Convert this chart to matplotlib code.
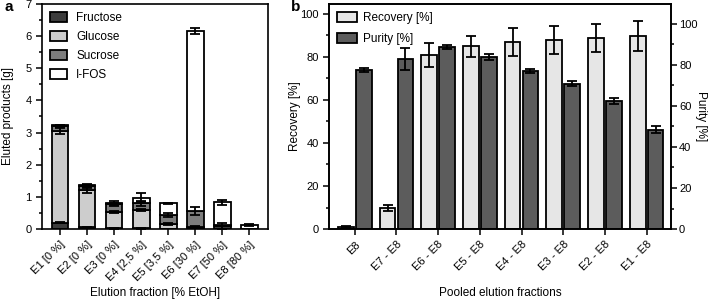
#!/usr/bin/env python3
"""
Eluted products per fraction (a) and recovery / purity of pooled fractions (b)
"""

import numpy as np
import matplotlib
matplotlib.use('Agg')
import matplotlib.pyplot as plt
from matplotlib.ticker import MultipleLocator

plt.rcParams['font.family'] = ['Liberation Sans', 'DejaVu Sans']
plt.rcParams['font.size'] = 8

# --- panel a data ---
fracoes = ['E1 [0 %]', 'E2 [0 %]', 'E3 [0 %]', 'E4 [2,5 %]',
           'E5 [3,5 %]', 'E6 [30 %]', 'E7 [50 %]', 'E8 [80 %]']
frutose = [0.20, 0.05, 0.02, 0.02, 0.00, 0.07, 0.10, 0.00]
glicose = [2.85, 1.15, 0.51, 0.57, 0.16, 0.00, 0.02, 0.00]
sacarose = [0.15, 0.15, 0.24, 0.21, 0.29, 0.50, 0.00, 0.00]
fos = [0.02, 0.02, 0.05, 0.18, 0.35, 5.58, 0.71, 0.12]
err_frutose = [0.02, 0.02, 0.01, 0.01, 0.00, 0.02, 0.10, 0.00]
err_glicose = [0.10, 0.08, 0.03, 0.03, 0.02, 0.00, 0.00, 0.00]
err_sacarose = [0.04, 0.03, 0.05, 0.08, 0.06, 0.12, 0.00, 0.00]
err_fos = [0.03, 0.02, 0.06, 0.13, 0.02, 0.10, 0.08, 0.03]

# --- panel b data ---
pools = ['E8', 'E7 - E8', 'E6 - E8', 'E5 - E8', 'E4 - E8', 'E3 - E8', 'E2 - E8', 'E1 - E8']
recuperacao = [0.8, 9.8, 80.8, 84.9, 86.8, 87.8, 88.8, 89.8]
err_recuperacao = [0.4, 1.2, 5.5, 5.0, 6.5, 6.5, 6.7, 7.0]
pureza = [77.7, 82.8, 88.5, 83.7, 76.9, 70.7, 62.6, 48.5]
err_pureza = [1.0, 5.3, 1.0, 1.5, 1.0, 1.2, 1.5, 1.5]

cores_a = ['#3c3c3c', '#cdcdcd', '#7d7d7d', '#ffffff']
nomes_a = ['Fructose', 'Glucose', 'Sucrose', 'I-FOS']

fig = plt.figure(figsize=(7.09, 3.01), dpi=100)
ax1 = fig.add_axes([0.0592, 0.239, 0.319, 0.748])
ax2 = fig.add_axes([0.464, 0.239, 0.482, 0.748])

lw = 1.3
ekw = dict(elinewidth=1.3, capsize=3.6, capthick=1.3, ecolor='black')

# panel a: stacked bars with error bars at the top of each segment
x = np.arange(len(fracoes))
base = np.zeros(len(fracoes))
camadas = [frutose, glicose, sacarose, fos]
erros = [err_frutose, err_glicose, err_sacarose, err_fos]
for vals, errs, cor, nome in zip(camadas, erros, cores_a, nomes_a):
    vals = np.array(vals)
    ax1.bar(x, vals, 0.62, bottom=base, color=cor, edgecolor='black',
            linewidth=lw, label=nome, zorder=2)
    topo = base + vals
    mask = np.array(errs) > 0
    ax1.errorbar(x[mask], topo[mask], yerr=np.array(errs)[mask], fmt='none',
                 zorder=3, **ekw)
    base = topo

ax1.set_xlim(-0.67, 7.7)
ax1.set_ylim(0, 7)
ax1.yaxis.set_major_locator(MultipleLocator(1))
ax1.yaxis.set_minor_locator(MultipleLocator(0.5))
ax1.set_xticks(x)
ax1.set_xticklabels(fracoes, rotation=45, ha='right', rotation_mode='anchor')
ax1.set_ylabel('Eluted products [g]', fontsize=8.5, va='center')
ax1.yaxis.set_label_coords(-0.15, 0.5)
ax1.set_xlabel('Elution fraction [% EtOH]', fontsize=8.5, va='center')
ax1.xaxis.set_label_coords(0.5, -0.282)
ax1.legend(loc='upper left', frameon=False, fontsize=8.5, handlelength=1.4,
           handleheight=0.9, labelspacing=0.6, borderaxespad=0.3,
           handletextpad=0.8)

# panel b: grouped bars, recovery on left axis, purity on right axis
xb = np.arange(len(pools))
w = 0.38
ax2.bar(xb - 0.215, recuperacao, w, color='#e6e6e6', edgecolor='black',
        linewidth=lw, label='Recovery [%]', zorder=2)
ax2.errorbar(xb - 0.215, recuperacao, yerr=err_recuperacao, fmt='none', zorder=3, **ekw)
ax2.set_xlim(-0.62, 7.58)
ax2.set_ylim(0, 104.6)
ax2.yaxis.set_major_locator(MultipleLocator(20))
ax2.yaxis.set_minor_locator(MultipleLocator(10))
ax2.set_xticks(xb)
ax2.set_xticklabels(pools, rotation=45, ha='right', rotation_mode='anchor')
ax2.set_ylabel('Recovery [%]', fontsize=8.5, va='center')
ax2.yaxis.set_label_coords(-0.099, 0.5)
ax2.set_xlabel('Pooled elution fractions', fontsize=8.5, va='center')
ax2.xaxis.set_label_coords(0.5, -0.282)

ax3 = ax2.twinx()
ax3.bar(xb + 0.215, pureza, w, color='#5c5c5c', edgecolor='black',
        linewidth=lw, label='Purity [%]', zorder=2)
ax3.errorbar(xb + 0.215, pureza, yerr=err_pureza, fmt='none', zorder=3, **ekw)
ax3.set_ylim(0, 109.7)
ax3.yaxis.set_major_locator(MultipleLocator(20))
ax3.yaxis.set_minor_locator(MultipleLocator(10))
ax3.set_ylabel('Purity [%]', fontsize=8.5, rotation=270, va='center', ha='center')
ax3.yaxis.set_label_coords(1.088, 0.5)

h1, l1 = ax2.get_legend_handles_labels()
h2, l2 = ax3.get_legend_handles_labels()
ax3.legend(h1 + h2, l1 + l2, loc='upper left', frameon=False, fontsize=8.5,
           handlelength=1.7, handleheight=0.9, labelspacing=0.75,
           borderaxespad=0.3, handletextpad=0.5)

for ax in (ax1, ax2, ax3):
    for s in ax.spines.values():
        s.set_linewidth(1.2)
    ax.tick_params(which='both', direction='out', width=1.1, colors='black')
    ax.tick_params(which='major', length=4)
    ax.tick_params(which='minor', length=2.5)
    ax.tick_params(axis='both', labelsize=8)
ax1.tick_params(axis='x', which='minor', bottom=False)
ax3.tick_params(axis='y', pad=2)

fig.text(0.007, 0.965, 'a', fontsize=11, fontweight='bold')
fig.text(0.41, 0.965, 'b', fontsize=11, fontweight='bold')

plt.savefig('out.png', dpi=100)
plt.close()
